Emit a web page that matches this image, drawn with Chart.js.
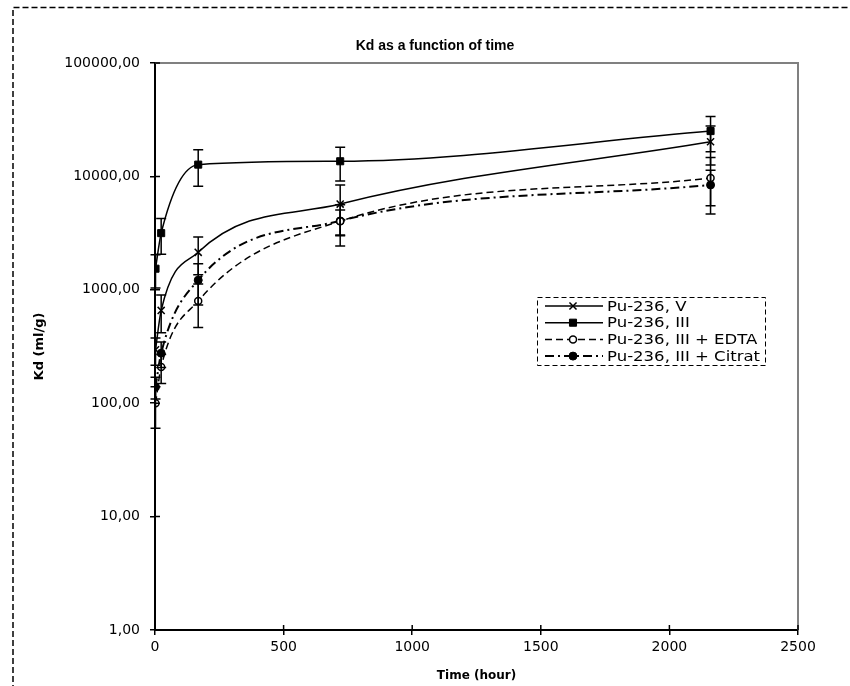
<!DOCTYPE html>
<html>
<head>
<meta charset="utf-8">
<script src="https://cdn.jsdelivr.net/npm/chart.js@4.4.1/dist/chart.umd.min.js"></script>
<style>
  body { margin: 0; background: #fff; }
  #wrap { width: 850px; height: 686px; position: relative; }
</style>
</head>
<body>
<div id="wrap"><canvas id="kdChart"></canvas></div>
<script>
// time of sampling (hours)
var times = [2, 24, 168, 720, 2160];

var kdV = [296, 658, 2140, 5700, 20200];
var errV = [80, 240, 780, 2700, 7600];

var kdIII = [1535, 3160, 12700, 13600, 25100];
var errIII = [500, 1100, 4500, 4500, 8600];

var kdEDTA = [100, 209, 796, 4030, 9660];
var errEDTA = [40, 60, 330, 1600, 5000];

var kdCitrat = [139, 276, 1216, 4050, 8410];
var errCitrat = [30, 70, 480, 1000, 2900];

var seriesNames = ["Pu-236, V", "Pu-236, III", "Pu-236, III + EDTA", "Pu-236, III + Citrat"];
var yTickValues = [1, 10, 100, 1000, 10000, 100000];
var xTickStep = 500;

var FONT = "'DejaVu Sans', sans-serif";
var TITLE_FONT = "'Liberation Sans', Arial, sans-serif";

function pts(vals) {
    return vals.map(function (v, i) { return { x: times[i], y: v }; });
}

var errors = [errV, errIII, errEDTA, errCitrat];

// error bars, drawn through the chart scales
var errorBars = {
    id: "errorBars",
    afterDatasetsDraw: function (chart) {
        var ctx = chart.ctx, xs = chart.scales.x, ys = chart.scales.y;
        ctx.save();
        ctx.strokeStyle = "#000";
        ctx.lineWidth = 1.5;
        ctx.setLineDash([]);
        chart.data.datasets.forEach(function (ds, di) {
            ds.data.forEach(function (p, i) {
                var e = errors[di][i];
                var px = xs.getPixelForValue(p.x);
                var top = ys.getPixelForValue(p.y + e);
                var bot = ys.getPixelForValue(Math.max(p.y - e, 1));
                ctx.beginPath();
                ctx.moveTo(px, top); ctx.lineTo(px, bot);
                ctx.moveTo(px - 5, top); ctx.lineTo(px + 5, top);
                ctx.moveTo(px - 5, bot); ctx.lineTo(px + 5, bot);
                ctx.stroke();
            });
        });
        ctx.restore();
    }
};

// frame, title, inner ticks, legend
var decor = {
    id: "decor",
    beforeDraw: function (chart) {
        var ctx = chart.ctx;
        ctx.save();
        ctx.fillStyle = "#fff";
        ctx.fillRect(0, 0, chart.width, chart.height);
        ctx.strokeStyle = "#000";
        ctx.lineWidth = 1.5;
        ctx.setLineDash([6, 3]);
        ctx.beginPath();
        ctx.moveTo(13, 700); ctx.lineTo(13, 7.5); ctx.lineTo(850, 7.5);
        ctx.stroke();
        ctx.restore();
    },
    afterDraw: function (chart) {
        var ctx = chart.ctx, a = chart.chartArea;
        var xs = chart.scales.x, ys = chart.scales.y;
        ctx.save();
        // grey top/right plot edges
        ctx.strokeStyle = "#808080";
        ctx.lineWidth = 2;
        ctx.beginPath();
        ctx.moveTo(a.left, a.top); ctx.lineTo(a.right, a.top); ctx.lineTo(a.right, a.bottom);
        ctx.stroke();
        // ticks crossing into the plot
        ctx.strokeStyle = "#000";
        ctx.lineWidth = 1.5;
        ctx.beginPath();
        yTickValues.forEach(function (v) {
            var py = ys.getPixelForValue(v);
            ctx.moveTo(a.left, py); ctx.lineTo(a.left + 5, py);
        });
        for (var t = 0; t <= 2500; t += xTickStep) {
            var px = xs.getPixelForValue(t);
            ctx.moveTo(px, a.bottom); ctx.lineTo(px, a.bottom - 5);
        }
        ctx.stroke();
        // title
        ctx.fillStyle = "#000";
        ctx.font = "bold 14px " + TITLE_FONT;
        ctx.textAlign = "center";
        ctx.textBaseline = "middle";
        ctx.fillText("Kd as a function of time", 435, 46);
        // legend
        var lx = 537, ly = 297, lw = 228, lh = 68;
        ctx.lineWidth = 1;
        ctx.setLineDash([5, 3]);
        ctx.strokeRect(lx + 0.5, ly + 0.5, lw, lh);
        ctx.font = "14px " + FONT;
        ctx.textAlign = "left";
        chart.data.datasets.forEach(function (ds, i) {
            var y = ly + 9 + i * 16.7;
            ctx.strokeStyle = "#000";
            ctx.lineWidth = ds.borderWidth;
            ctx.setLineDash(ds.borderDash || []);
            ctx.beginPath();
            ctx.moveTo(lx + 8, y); ctx.lineTo(lx + 66, y);
            ctx.stroke();
            ctx.setLineDash([]);
            ctx.fillStyle = ds.pointBackgroundColor;
            ctx.strokeStyle = "#000";
            ctx.lineWidth = ds.pointBorderWidth;
            Chart.helpers.drawPoint(ctx, {
                pointStyle: ds.pointStyle, radius: ds.pointRadius, borderWidth: ds.pointBorderWidth, rotation: 0
            }, lx + 36, y);
            ctx.fillStyle = "#000";
            ctx.save();
            ctx.translate(lx + 70, y + 1);
            ctx.scale(1.18, 1);
            ctx.fillText(ds.label, 0, 0);
            ctx.restore();
        });
        ctx.restore();
    }
};

new Chart("kdChart", {
    type: "line",
    data: {
        datasets: [{
            label: seriesNames[0],
            data: pts(kdV),
            borderColor: "#000",
            borderWidth: 1.5,
            pointStyle: "crossRot",
            pointRadius: 5,
            pointBorderWidth: 1.5,
            pointBorderColor: "#000",
            pointBackgroundColor: "#000",
            cubicInterpolationMode: "monotone"
        }, {
            label: seriesNames[1],
            data: pts(kdIII),
            borderColor: "#000",
            borderWidth: 1.5,
            pointStyle: "rect",
            pointRadius: 5,
            pointBorderWidth: 1,
            pointBorderColor: "#000",
            pointBackgroundColor: "#000",
            cubicInterpolationMode: "monotone"
        }, {
            label: seriesNames[2],
            data: pts(kdEDTA),
            borderColor: "#000",
            borderWidth: 1.5,
            borderDash: [7, 4],
            pointStyle: "circle",
            pointRadius: 3.5,
            pointBorderWidth: 1.5,
            pointBorderColor: "#000",
            pointBackgroundColor: "#fff",
            cubicInterpolationMode: "monotone"
        }, {
            label: seriesNames[3],
            data: pts(kdCitrat),
            borderColor: "#000",
            borderWidth: 2,
            borderDash: [9, 4, 2, 4],
            pointStyle: "circle",
            pointRadius: 4,
            pointBorderWidth: 1,
            pointBorderColor: "#000",
            pointBackgroundColor: "#000",
            cubicInterpolationMode: "monotone"
        }]
    },
    options: {
        responsive: true,
        maintainAspectRatio: false,
        animation: false,
        layout: { padding: { top: 63, right: 52, left: 0, bottom: 0 } },
        plugins: {
            legend: { display: false },
            title: { display: false },
            tooltip: { enabled: false }
        },
        scales: {
            x: {
                type: "linear",
                min: 0,
                max: 2500,
                afterFit: function (s) { s.height = 56; },
                ticks: {
                    stepSize: xTickStep,
                    color: "#000",
                    padding: 4,
                    maxRotation: 0,
                    font: { family: FONT, size: 14 },
                    callback: function (v) { return String(v); }
                },
                grid: { drawOnChartArea: false, tickLength: 5, color: "#000", lineWidth: 1.5 },
                border: { display: true, color: "#000", width: 2 },
                title: {
                    display: true,
                    text: "Time (hour)",
                    color: "#000",
                    padding: { top: 0, bottom: 3 },
                    font: { family: FONT, size: 12, weight: "bold" }
                }
            },
            y: {
                type: "logarithmic",
                min: 1,
                max: 100000,
                afterFit: function (s) { s.width = 155; },
                afterBuildTicks: function (s) {
                    s.ticks = yTickValues.map(function (v) { return { value: v, major: true }; });
                },
                ticks: {
                    color: "#000",
                    padding: 10,
                    font: { family: FONT, size: 14 },
                    callback: function (v) { return Number(v).toFixed(2).replace(".", ","); }
                },
                grid: { drawOnChartArea: false, tickLength: 5, color: "#000", lineWidth: 1.5 },
                border: { display: true, color: "#000", width: 2 },
                title: {
                    display: true,
                    text: "Kd (ml/g)",
                    color: "#000",
                    padding: { top: 32, bottom: 0 },
                    font: { family: FONT, size: 13, weight: "bold" }
                }
            }
        }
    },
    plugins: [decor, errorBars]
});
</script>
</body>
</html>
